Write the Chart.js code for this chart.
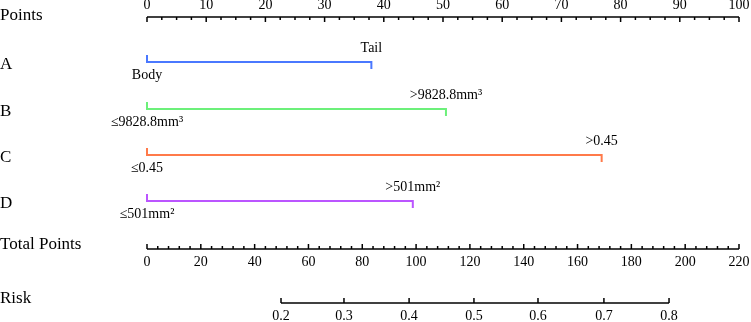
<!DOCTYPE html>
<html>
<head>
<meta charset="utf-8">
<script src="https://cdn.jsdelivr.net/npm/chart.js@4/dist/chart.umd.min.js"></script>
<style>
  html, body { margin: 0; padding: 0; background: #fff; }
  #wrap { width: 751px; height: 322px; position: relative; }
</style>
</head>
<body>
<div id="wrap"><canvas id="nomo"></canvas></div>
<script>
// values
var pointTicks = [0, 10, 20, 30, 40, 50, 60, 70, 80, 90, 100];
var totalTicks = [0, 20, 40, 60, 80, 100, 120, 140, 160, 180, 200, 220];
var riskLabels = ['0.2', '0.3', '0.4', '0.5', '0.6', '0.7', '0.8'];
var riskTotals = [49.8, 73.2, 97.4, 121.5, 145.3, 169.8, 194.0];

var variables = ['A', 'B', 'C', 'D'];
var lowLabels = ['Body', '\u22649828.8mm\u00b3', '\u22640.45', '\u2264501mm\u00b2'];
var highLabels = ['Tail', '>9828.8mm\u00b3', '>0.45', '>501mm\u00b2'];
var highPoints = [37.9, 50.5, 76.8, 44.9];
var lineColors = ['#4a78ff', '#6cf07a', '#ff7a4a', '#bb55ff'];

// layout (pixel rows, y scale is 1 unit = 1 px)
var rowPoints = 17, rowTotal = 249, rowRisk = 303;
var rowVars = [62, 109, 155, 201];
var serif = '"Liberation Serif", "Times New Roman", serif';

var datasets = variables.map(function(v, i) {
    var y = rowVars[i];
    return {
        label: v,
        data: [{x: 0, y: y - 7}, {x: 0, y: y}, {x: highPoints[i], y: y}, {x: highPoints[i], y: y + 7}],
        borderColor: lineColors[i],
        borderWidth: 2,
        pointRadius: 0,
        tension: 0,
        clip: false
    };
});

var axesPlugin = {
    id: 'nomoAxes',
    afterDatasetsDraw: function(chart) {
        var ctx = chart.ctx;
        var xs = chart.scales.x;
        var xt = chart.scales.xTotal;
        ctx.save();
        ctx.strokeStyle = '#000';
        ctx.fillStyle = '#000';
        ctx.lineWidth = 1.5;

        function hline(scale, a, b, y) {
            ctx.beginPath();
            ctx.moveTo(scale.getPixelForValue(a), y);
            ctx.lineTo(scale.getPixelForValue(b), y);
            ctx.stroke();
        }
        function tick(px, y, len) {
            ctx.beginPath();
            ctx.moveTo(px, y);
            ctx.lineTo(px, y + len);
            ctx.stroke();
        }

        // Points axis
        hline(xs, 0, 100, rowPoints);
        for (var p = 0; p <= 100.01; p += 2.5) {
            var major = Math.abs(p % 10) < 0.01;
            tick(xs.getPixelForValue(p), rowPoints, major ? 5 : 3);
        }
        ctx.font = '14px ' + serif;
        ctx.textAlign = 'center';
        ctx.textBaseline = 'middle';
        pointTicks.forEach(function(t) {
            ctx.fillText(String(t), xs.getPixelForValue(t), 5);
        });

        // Total points axis
        hline(xt, 0, 220, rowTotal);
        for (var t = 0; t <= 220; t += 4) {
            tick(xt.getPixelForValue(t), rowTotal, t % 20 === 0 ? -5 : -3);
        }
        totalTicks.forEach(function(t) {
            ctx.fillText(String(t), xt.getPixelForValue(t), rowTotal + 13);
        });

        // Risk axis
        hline(xt, riskTotals[0], riskTotals[riskTotals.length - 1], rowRisk);
        riskTotals.forEach(function(t, i) {
            tick(xt.getPixelForValue(t), rowRisk, -5);
            ctx.fillText(riskLabels[i], xt.getPixelForValue(t), rowRisk + 13);
        });

        // level labels
        ctx.font = '14px ' + serif;
        variables.forEach(function(v, i) {
            var y = rowVars[i];
            ctx.fillText(lowLabels[i], xs.getPixelForValue(0), y + 13);
            ctx.fillText(highLabels[i], xs.getPixelForValue(highPoints[i]), y - 14);
        });

        // row titles
        ctx.font = '17px ' + serif;
        ctx.textAlign = 'left';
        ctx.fillText('Points', 0, rowPoints - 1);
        variables.forEach(function(v, i) {
            ctx.fillText(v, 0, rowVars[i] + 3);
        });
        ctx.fillText('Total Points', 0, rowTotal - 4);
        ctx.fillText('Risk', 0, rowRisk - 4);
        ctx.restore();
    }
};

new Chart(document.getElementById('nomo'), {
    type: 'line',
    data: { datasets: datasets },
    options: {
        responsive: true,
        maintainAspectRatio: false,
        animation: false,
        layout: { padding: { left: 147, right: 12, top: 0, bottom: 0 } },
        plugins: { legend: { display: false }, tooltip: { enabled: false } },
        scales: {
            x: { type: 'linear', min: 0, max: 100, display: false },
            xTotal: { type: 'linear', axis: 'x', min: 0, max: 220, display: false },
            y: { type: 'linear', min: 0, max: 322, reverse: true, display: false }
        }
    },
    plugins: [axesPlugin]
});
</script>
</body>
</html>
